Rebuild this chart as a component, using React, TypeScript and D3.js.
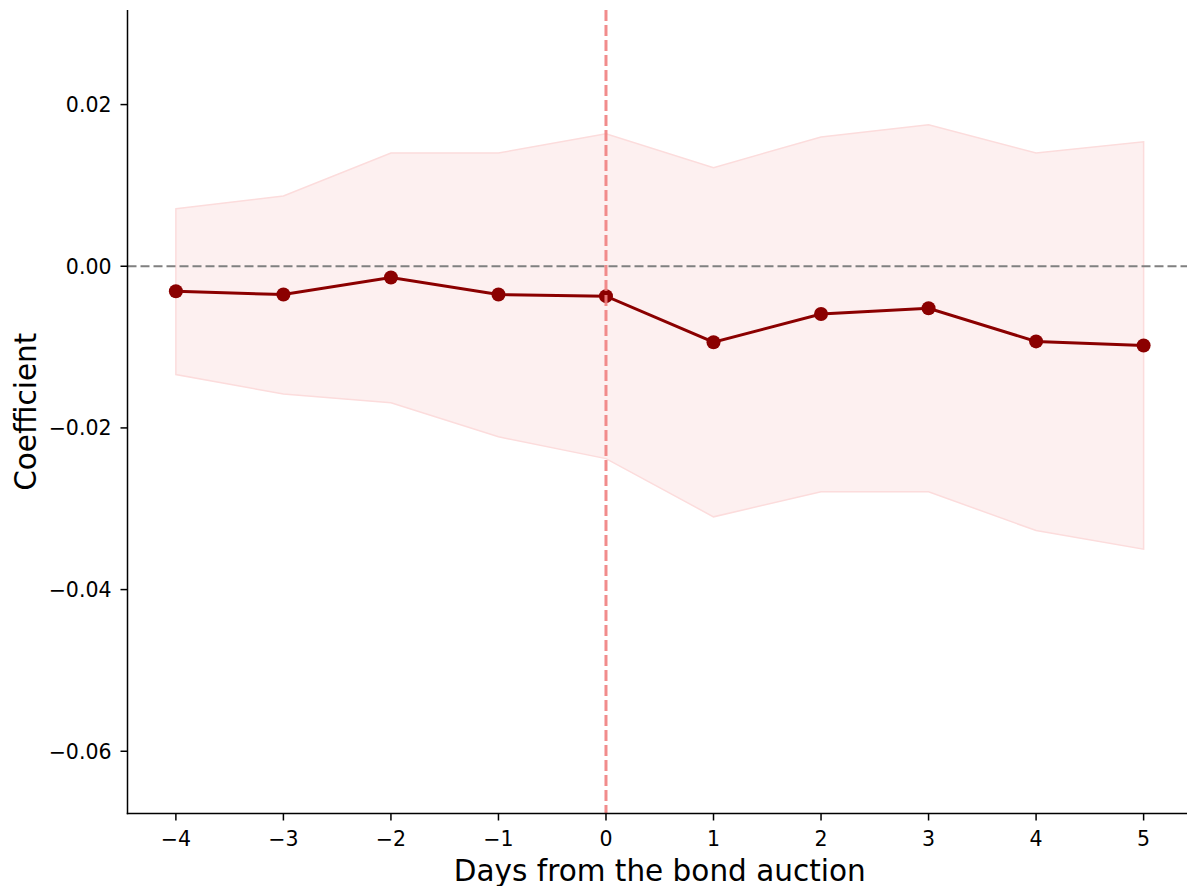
import React, { useEffect, useRef } from "react";
import * as d3 from "d3";

// Event-study estimates around the bond auction day
const days = [-4, -3, -2, -1, 0, 1, 2, 3, 4, 5];
const coefficients = [-0.0031, -0.0035, -0.0014, -0.0035, -0.0037, -0.0094, -0.0059, -0.0052, -0.0093, -0.0098];
const ciUpper = [0.0071, 0.0087, 0.014, 0.014, 0.0164, 0.0122, 0.016, 0.0175, 0.014, 0.0154];
const ciLower = [-0.0134, -0.0158, -0.0169, -0.0211, -0.0238, -0.031, -0.0279, -0.0279, -0.0327, -0.035];
const xTicks = [-4, -3, -2, -1, 0, 1, 2, 3, 4, 5];
const yTicks = [0.02, 0.0, -0.02, -0.04, -0.06];

const W = 1187;
const H = 886;
const FONT = "DejaVu Sans, sans-serif";

export default function App() {
  const ref = useRef<SVGSVGElement | null>(null);

  useEffect(() => {
    const svg = d3.select(ref.current);
    svg.selectAll("*").remove();

    const left = 127.5;
    const right = 1192;
    const top = 10;
    const bottom = 813.5;

    const x = d3.scaleLinear().domain([-4.45, 5.45]).range([left, right]);
    const y = d3.scaleLinear().domain([-0.0677, 0.0317]).range([bottom, top]);

    const rows = days.map((d, i) => ({ d, c: coefficients[i], lo: ciLower[i], hi: ciUpper[i] }));

    // Confidence band
    const area = d3
      .area<(typeof rows)[number]>()
      .x((r) => x(r.d))
      .y0((r) => y(r.lo))
      .y1((r) => y(r.hi));
    svg
      .append("path")
      .datum(rows)
      .attr("d", area)
      .attr("fill", "#fdf0f0")
      .attr("stroke", "#fcdcdc")
      .attr("stroke-width", 1.5);

    // Zero reference line
    svg
      .append("line")
      .attr("x1", left)
      .attr("x2", W)
      .attr("y1", y(0))
      .attr("y2", y(0))
      .attr("stroke", "#808080")
      .attr("stroke-width", 2)
      .attr("stroke-dasharray", "9,4");

    // Coefficient line with markers
    const line = d3
      .line<(typeof rows)[number]>()
      .x((r) => x(r.d))
      .y((r) => y(r.c));
    svg
      .append("path")
      .datum(rows)
      .attr("d", line)
      .attr("fill", "none")
      .attr("stroke", "#8b0000")
      .attr("stroke-width", 3);
    svg
      .selectAll("circle.pt")
      .data(rows)
      .enter()
      .append("circle")
      .attr("class", "pt")
      .attr("cx", (r) => x(r.d))
      .attr("cy", (r) => y(r.c))
      .attr("r", 7)
      .attr("fill", "#8b0000");

    // Auction day marker
    svg
      .append("line")
      .attr("x1", x(0))
      .attr("x2", x(0))
      .attr("y1", top)
      .attr("y2", bottom)
      .attr("stroke", "#f08080")
      .attr("stroke-opacity", 0.9)
      .attr("stroke-width", 3)
      .attr("stroke-dasharray", "11,4");

    // Spines
    svg
      .append("line")
      .attr("x1", left)
      .attr("x2", left)
      .attr("y1", top)
      .attr("y2", bottom + 0.75)
      .attr("stroke", "#000")
      .attr("stroke-width", 1.5);
    svg
      .append("line")
      .attr("x1", left - 0.75)
      .attr("x2", W)
      .attr("y1", bottom)
      .attr("y2", bottom)
      .attr("stroke", "#000")
      .attr("stroke-width", 1.5);

    // X ticks
    const xt = svg.append("g");
    xTicks.forEach((t) => {
      xt.append("line")
        .attr("x1", x(t))
        .attr("x2", x(t))
        .attr("y1", bottom)
        .attr("y2", bottom + 7)
        .attr("stroke", "#000")
        .attr("stroke-width", 1.5);
      xt.append("text")
        .attr("x", x(t))
        .attr("y", bottom + 32)
        .attr("text-anchor", "middle")
        .attr("font-family", FONT)
        .attr("font-size", 20.5)
        .attr("fill", "#000")
        .text(t < 0 ? `\u2212${Math.abs(t)}` : `${t}`);
    });

    // Y ticks
    const yt = svg.append("g");
    yTicks.forEach((t) => {
      yt.append("line")
        .attr("x1", left - 7)
        .attr("x2", left)
        .attr("y1", y(t))
        .attr("y2", y(t))
        .attr("stroke", "#000")
        .attr("stroke-width", 1.5);
      const s = Math.abs(t).toFixed(2);
      yt.append("text")
        .attr("x", left - 16)
        .attr("y", y(t))
        .attr("dy", "0.36em")
        .attr("text-anchor", "end")
        .attr("font-family", FONT)
        .attr("font-size", 20.5)
        .attr("fill", "#000")
        .text(t < 0 ? `\u2212${s}` : s);
    });

    // Axis titles
    svg
      .append("text")
      .attr("x", (left + right) / 2)
      .attr("y", 881)
      .attr("text-anchor", "middle")
      .attr("font-family", FONT)
      .attr("font-size", 29.5)
      .attr("fill", "#000")
      .text("Days from the bond auction");
    svg
      .append("text")
      .attr("transform", `translate(35.5,${(top + bottom) / 2}) rotate(-90)`)
      .attr("text-anchor", "middle")
      .attr("font-family", FONT)
      .attr("font-size", 29.5)
      .attr("fill", "#000")
      .text("Coefficient");
  }, []);

  return (
    <svg
      ref={ref}
      width={W}
      height={H}
      style={{ position: "absolute", left: 0, top: 0, background: "#fff" }}
    />
  );
}
